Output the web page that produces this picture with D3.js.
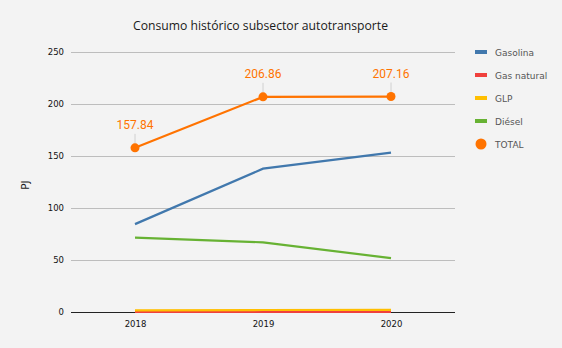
<!DOCTYPE html>
<html><head><meta charset="utf-8">
<script src="https://cdn.jsdelivr.net/npm/d3@7"></script>
<style>body{margin:0;background:#f3f3f3;}svg{display:block;}</style>
</head><body>
<svg id="c" width="562" height="348"></svg>
<script>
const years = ["2018","2019","2020"];
const gasolina = [84.5, 137.8, 153.2];
const gasNatural = [0.14, 0.16, 0.16];
const glp = [1.6, 1.9, 2.0];
const diesel = [71.6, 67.0, 51.8];
const total = [157.84, 206.86, 207.16];
const yTicks = [0, 50, 100, 150, 200, 250];

const series = [
  {name:"Gasolina", values:gasolina, color:"#4178ad"},
  {name:"Gas natural", values:gasNatural, color:"#f0403c"},
  {name:"GLP", values:glp, color:"#ffbf00"},
  {name:"Diésel", values:diesel, color:"#67b233"}
];
const totalColor = "#ff7300";

const svg = d3.select("#c");
svg.append("rect").attr("width",562).attr("height",348).attr("fill","#f3f3f3");
const L=71, R=455, T=52, B=312;
const x = d3.scalePoint().domain(years).range([L,R]).padding(0.5);
const y = d3.scaleLinear().domain([0,250]).range([B,T]);

svg.append("text").attr("x",260.5).attr("y",30).attr("text-anchor","middle")
  .attr("font-family","Open Sans").attr("font-size",13.5).attr("fill","#1a1a1a")
  .attr("textLength",255).attr("lengthAdjust","spacingAndGlyphs")
  .text("Consumo histórico subsector autotransporte");

const grid = svg.append("g").attr("transform",`translate(${L},0)`)
  .call(d3.axisLeft(y).tickValues(yTicks).tickSize(-(R-L)).tickPadding(7).tickFormat(d3.format("d")));
grid.select(".domain").remove();
grid.selectAll(".tick line").attr("stroke","#bdbdbd");
grid.selectAll(".tick text").attr("font-family","DejaVu Sans").attr("font-size",8.5).attr("fill","#111");

const xa = svg.append("g").attr("transform",`translate(0,${B})`)
  .call(d3.axisBottom(x).tickSize(0).tickPadding(9));
xa.select(".domain").attr("stroke","#222").attr("d",`M${L},0.5H${R}`);
xa.selectAll(".tick text").attr("font-family","DejaVu Sans").attr("font-size",8.5).attr("fill","#111");

svg.append("text").attr("transform","translate(29,185) rotate(-90)").attr("text-anchor","middle")
  .attr("font-family","DejaVu Sans").attr("font-size",10.5).attr("fill","#222").text("PJ");

const line = d3.line().x((d,i)=>x(years[i])).y(d=>y(d));
series.forEach(s=>{
  svg.append("path").attr("d",line(s.values)).attr("fill","none")
    .attr("stroke",s.color).attr("stroke-width",2.2);
});
svg.append("path").attr("d",line(total)).attr("fill","none").attr("stroke",totalColor).attr("stroke-width",2.2);
total.forEach((v,i)=>{
  const cx=x(years[i]), cy=y(v);
  svg.append("line").attr("x1",cx).attr("x2",cx).attr("y1",cy-4).attr("y2",cy-14).attr("stroke","#d0d0d0");
  svg.append("circle").attr("cx",cx).attr("cy",cy).attr("r",4.5).attr("fill",totalColor);
  svg.append("text").attr("x",cx).attr("y",cy-19).attr("text-anchor","middle")
    .attr("font-family","Roboto").attr("font-size",12).attr("fill",totalColor).text(v.toFixed(2));
});

const lg = svg.append("g");
const items = series.map(s=>({name:s.name,color:s.color,type:"line"})).concat([{name:"TOTAL",color:totalColor,type:"dot"}]);
items.forEach((it,i)=>{
  const yy = 52 + i*23;
  if(it.type==="line") lg.append("rect").attr("x",475).attr("y",yy-2).attr("width",12).attr("height",4).attr("fill",it.color);
  else lg.append("circle").attr("cx",481).attr("cy",yy).attr("r",5.5).attr("fill",it.color);
  lg.append("text").attr("x",495).attr("y",yy+3.5).attr("font-family","DejaVu Sans").attr("font-size",9)
    .attr("fill","#555").text(it.name);
});
</script>
</body></html>
